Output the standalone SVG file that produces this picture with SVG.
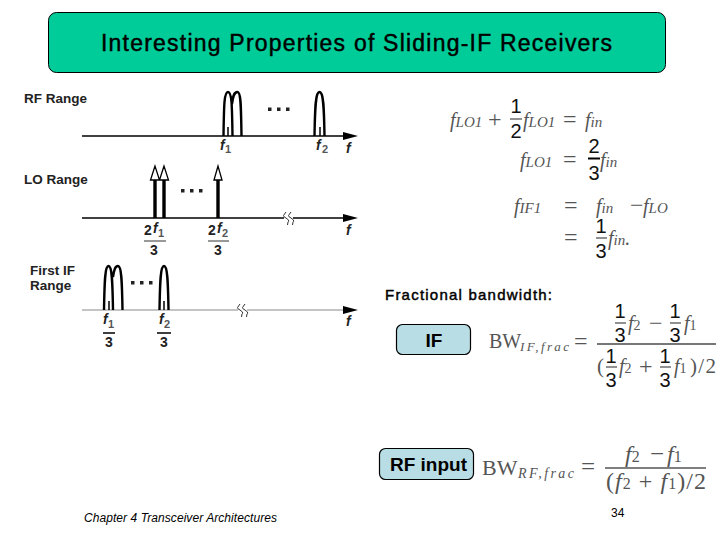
<svg xmlns="http://www.w3.org/2000/svg" width="720" height="540" viewBox="0 0 720 540">
<style>
.s{font-family:"Liberation Sans",Arial,sans-serif;fill:#000}
.md{stroke:#000;stroke-width:.45}
.lb{font-weight:bold;font-size:13.500px;fill:#222}
.fi{font-weight:bold;font-style:italic;font-size:14px;fill:#222}
.fn{font-weight:bold;font-size:14px;fill:#222}
.sb{font-weight:bold;font-size:11px;fill:#555}
.m{font-family:"Liberation Serif","Times New Roman",serif;fill:#555}
.v{font-size:20px;font-style:italic}
.o{font-size:24px}
.b{font-size:24px;font-style:italic}
.bo{font-size:25px}
.n{font-family:"Liberation Sans",Arial,sans-serif;font-size:20px;fill:#111}
.ax{stroke:#000;stroke-width:1.500;fill:none}
.hump{stroke:#000;stroke-width:2.400;fill:none}
.tick{stroke:#000;stroke-width:1.500}
.lo{stroke:#000;stroke-width:3.400}
.hd{fill:#fff;stroke:#000;stroke-width:1.300}
.fr{stroke:#555;stroke-width:1.300}
.box{fill:#b9dde4;stroke:#000;stroke-width:1.200}
.brk{fill:none;stroke:#333;stroke-width:1}
.dot{fill:#222}
</style>
<g id="title">
<rect x="48.500" y="12.500" width="617" height="60" rx="8" fill="#00cc99" stroke="#000" stroke-width="1"/>
<text class="s md" x="101" y="50.500" font-size="23" textLength="511">Interesting Properties of Sliding-IF Receivers</text>
</g>
<g id="connectors">
<path class="ax" d="M82 136H346"/><path d="M343 132L358 136L343 140Z"/>
<path class="ax" d="M82 218H346"/><path d="M343 214L358 218L343 222Z"/>
<path d="M82 310H346" stroke="#c4c4c4" stroke-width="2" fill="none"/><path d="M343 306L358 310L343 314Z"/>
<path fill="#fff" d="M284 215H293V222H284Z"/>
<path class="brk" d="M286 212L283.500 215.500Q283.500 217 286 218L288.500 220Q289 221.500 288 222L287.500 225M291 212L288.500 215.500Q288.500 217 291 218L293.500 220Q294 221.500 293 222L292.500 225"/>
<path fill="#fff" d="M238 307H247V314H238Z"/>
<path class="brk" d="M240 304L237.500 307.500Q237.500 309 240 310L242.500 312Q243 313.500 242 314L241.500 317M245 304L242.500 307.500Q242.500 309 245 310L247.500 312Q248 313.500 247 314L246.500 317"/>
</g>
<g id="rf-spectrum">
<text class="s lb" x="24" y="103">RF Range</text>
<path class="hump" d="M223.500 136C224 106 224 92 228 92C232 92 232 106 232.500 136M232 104C233 96 234 92 237.500 92C241 92 241 106 241.500 136"/>
<path class="hump" d="M314.500 136C315 106 315.500 92 319.500 92C323.500 92 324 106 324.500 136"/>
<path class="tick" d="M228 127V136"/><path class="tick" stroke-width="1" d="M320 127V136"/>
<g class="dot"><rect x="268" y="107.500" width="3.500" height="3.500"/><rect x="277" y="107.500" width="3.500" height="3.500"/><rect x="286" y="107.500" width="3.500" height="3.500"/></g>
<text class="s fi" x="220" y="150">f</text><text class="s sb" x="225" y="153">1</text>
<text class="s fi" x="316" y="150">f</text><text class="s sb" x="322" y="153">2</text>
<text class="s fi" x="346" y="153">f</text>
</g>
<g id="lo-spectrum">
<text class="s lb" x="24" y="184">LO Range</text>
<path class="lo" d="M155 180V218M164 180V218M218 180V218"/>
<path class="hd" d="M155 166L150.500 180H159.500ZM164 166L159.500 180H168.500ZM218 166L214 180H222Z"/>
<g class="dot"><rect x="181" y="189" width="3.500" height="3.500"/><rect x="190" y="189" width="3.500" height="3.500"/><rect x="199" y="189" width="3.500" height="3.500"/></g>
<text class="s fn" x="144" y="235">2</text><text class="s fi" x="153" y="233">f</text><text class="s sb" x="158" y="237">1</text>
<path d="M144 241H166M208 241H229" stroke="#333" stroke-width="1"/>
<text class="s fn" x="150" y="255">3</text>
<text class="s fn" x="208" y="235">2</text><text class="s fi" x="217" y="233">f</text><text class="s sb" x="222" y="237">2</text>
<text class="s fn" x="214" y="255">3</text>
<text class="s fi" x="346" y="235">f</text>
</g>
<g id="if-spectrum">
<text class="s lb" x="30" y="275">First IF</text>
<text class="s lb" x="30" y="290">Range</text>
<path class="hump" d="M104 310C104.500 280 105 266 108.500 266C112 266 112.500 280 113 310M113 277C114 270 115 266 118 266C121.500 266 122 280 122.500 310"/>
<path class="hump" d="M159.500 310C160 280 160.500 266 164 266C167.500 266 168 280 168.500 310"/>
<path class="tick" d="M109 301V310M164 301V310"/>
<g class="dot"><rect x="131" y="281" width="3.500" height="3.500"/><rect x="140" y="281" width="3.500" height="3.500"/><rect x="149" y="281" width="3.500" height="3.500"/></g>
<text class="s fi" x="103" y="324">f</text><text class="s sb" x="108" y="328">1</text>
<text class="s fi" x="159" y="324">f</text><text class="s sb" x="164" y="328">2</text>
<path d="M103 333H115M157 333H171" stroke="#000" stroke-width="1.500"/>
<text class="s fn" x="105" y="347">3</text><text class="s fn" x="160" y="347">3</text>
<text class="s fi" x="346" y="326">f</text>
</g>
<g id="equations-top">
<text class="m v" x="450" y="127">f<tspan font-size="15">LO1</tspan></text>
<text class="m o" x="488" y="127">+</text>
<text class="n" x="516" y="113" text-anchor="middle">1</text><path class="fr" d="M510 119H522"/><text class="n" x="516" y="138" text-anchor="middle">2</text>
<text class="m v" x="523" y="127">f<tspan font-size="15">LO1</tspan></text>
<text class="m o" x="563" y="127">=</text><text class="m v" x="585" y="127">f<tspan font-size="15">in</tspan></text>
<text class="m v" x="520" y="167">f<tspan font-size="15">LO1</tspan></text>
<text class="m o" x="563" y="167">=</text>
<text class="n" x="594" y="153" text-anchor="middle">2</text><path class="fr" d="M588 158.500H600" style="stroke:#000;stroke-width:2"/><text class="n" x="594" y="180" text-anchor="middle">3</text>
<text class="m v" x="600" y="167">f<tspan font-size="15">in</tspan></text>
<text class="m v" x="514" y="213">f<tspan font-size="15">IF1</tspan></text>
<text class="m o" x="564" y="213">=</text>
<text class="m v" x="596" y="213">f<tspan font-size="15">in</tspan></text>
<text class="m o" x="630" y="213">−</text>
<text class="m v" x="643" y="213">f<tspan font-size="15">LO</tspan></text>
<text class="m o" x="564" y="245">=</text>
<text class="n" x="601" y="233" text-anchor="middle">1</text><path class="fr" d="M596 238H607"/><text class="n" x="601" y="258" text-anchor="middle">3</text>
<text class="m v" x="608" y="245">f<tspan font-size="15">in</tspan>.</text>
</g>
<g id="fractional-label"><text class="s md" x="385" y="300" font-size="15" textLength="167">Fractional bandwidth:</text></g>
<g id="if-box">
<rect class="box" x="396.500" y="324.500" width="74" height="30" rx="6"/>
<text class="s" x="434" y="347" font-size="19" font-weight="bold" text-anchor="middle">IF</text>
</g>
<g id="bw-if">
<text class="m" x="489" y="348" font-size="20">BW</text>
<text class="m" x="520" y="351" font-size="13" font-style="italic" textLength="49">IF,frac</text>
<text class="m o" x="574" y="349">=</text>
<text class="n" x="620" y="318" text-anchor="middle">1</text><path class="fr" d="M615 323H626"/><text class="n" x="620" y="342" text-anchor="middle">3</text>
<text class="m v" x="628" y="330">f<tspan font-size="14" font-style="normal">2</tspan></text>
<text class="m o" x="649" y="331">−</text>
<text class="n" x="675" y="318" text-anchor="middle">1</text><path class="fr" d="M670 323H681"/><text class="n" x="675" y="342" text-anchor="middle">3</text>
<text class="m v" x="684" y="330">f<tspan font-size="14" font-style="normal">1</tspan></text>
<path d="M597 344H716" stroke="#777" stroke-width="2"/>
<text class="m" x="597" y="373" font-size="21">(</text>
<text class="n" x="611" y="363" text-anchor="middle">1</text><path class="fr" d="M606 367H617"/><text class="n" x="611" y="387" text-anchor="middle">3</text>
<text class="m v" x="619" y="373">f<tspan font-size="14" font-style="normal">2</tspan></text>
<text class="m o" x="639" y="374">+</text>
<text class="n" x="665" y="363" text-anchor="middle">1</text><path class="fr" d="M660 367H671"/><text class="n" x="665" y="387" text-anchor="middle">3</text>
<text class="m v" x="674" y="373">f<tspan font-size="14" font-style="normal">1</tspan></text>
<text class="m" x="690" y="373" font-size="21" textLength="26">)/2</text>
</g>
<g id="rf-box">
<rect class="box" x="379.500" y="448.500" width="94" height="31" rx="6"/>
<text class="s" x="428.500" y="471" font-size="19" font-weight="bold" text-anchor="middle">RF input</text>
</g>
<g id="bw-rf">
<text class="m" x="482" y="475" font-size="22">BW</text>
<text class="m" x="518" y="478" font-size="14" font-style="italic" textLength="56">RF,frac</text>
<text class="m bo" x="581" y="475">=</text>
<text class="m b" x="625" y="462">f<tspan font-size="16" font-style="normal">2</tspan></text>
<text class="m bo" x="650" y="462">−</text>
<text class="m b" x="667" y="462">f<tspan font-size="16" font-style="normal">1</tspan></text>
<path d="M605 468H706" stroke="#555" stroke-width="1.300"/>
<text class="m" x="606" y="489" font-size="24" textLength="100">(<tspan font-style="italic">f</tspan><tspan font-size="16">2</tspan> + <tspan font-style="italic">f</tspan><tspan font-size="16">1</tspan>)/2</text>
</g>
<g id="footer">
<text class="s" x="84" y="522" font-size="12" font-style="italic" fill="#222" textLength="193">Chapter 4 Transceiver Architectures</text>
<text class="s" x="611" y="517" font-size="12" fill="#222">34</text>
</g>
</svg>
